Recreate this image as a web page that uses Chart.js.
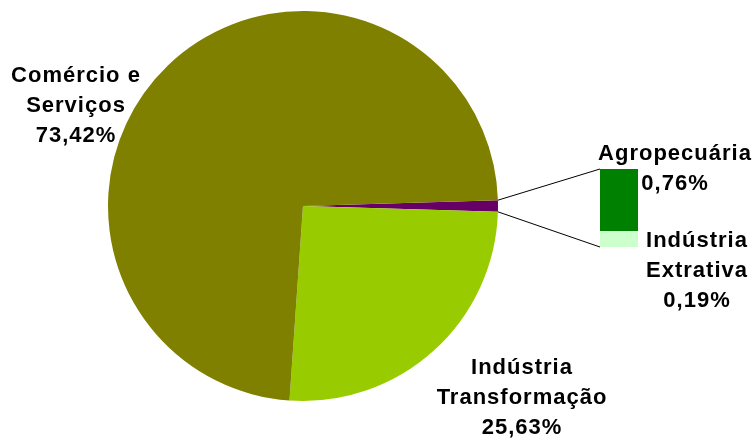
<!DOCTYPE html>
<html>
<head>
<meta charset="utf-8">
<script src="https://cdn.jsdelivr.net/npm/chart.js@4"></script>
<style>
  html, body { margin: 0; padding: 0; background: #fff; }
  #wrap { position: relative; width: 752px; height: 440px; }
  #wrap canvas { position: absolute; left: 0; top: 0; }
</style>
</head>
<body>
<div id="wrap">
  <canvas id="chartPie" width="752" height="440"></canvas>
  <canvas id="chartBar" width="752" height="440"></canvas>
</div>
<script>
// ===============================
// DADOS
// ===============================
const setores = ["Outros", "Indústria Transformação", "Comércio e Serviços"];
const setoresValores = [0.95, 25.63, 73.42];
const setoresCores = ["#660066", "#99CC00", "#808000"];

const detalhe = ["Indústria Extrativa", "Agropecuária"];
const detalheValores = [0.19, 0.76];
const detalheCores = ["#CCFFCC", "#008000"];

const rotulos = [
    { linhas: ["Comércio e", "Serviços", "73,42%"], x: 76, y: 82 },
    { linhas: ["Indústria", "Transformação", "25,63%"], x: 522, y: 374 },
    { linhas: ["Agropecuária", "0,76%"], x: 675, y: 160 },
    { linhas: ["Indústria", "Extrativa", "0,19%"], x: 697, y: 247 }
];

const fonte = "bold 22px 'Liberation Sans', Arial, sans-serif";

// ===============================
// PIZZA — Setores
// ===============================
const pie = new Chart(document.getElementById("chartPie"), {
    type: "pie",
    data: {
        labels: setores,
        datasets: [{
            data: setoresValores,
            backgroundColor: setoresCores,
            borderWidth: 0
        }]
    },
    options: {
        responsive: false,
        animation: false,
        rotation: 90 - setoresValores[0] * 3.6 / 2,
        layout: { padding: { left: 108, right: 254, top: 11, bottom: 39 } },
        plugins: { legend: { display: false }, tooltip: { enabled: false } }
    }
});

// ===============================
// BARRA — Detalhe de "Outros"
// ===============================
const ligacoes = {
    id: "ligacoes",
    afterDraw(chart) {
        const ctx = chart.ctx;
        const arco = pie.getDatasetMeta(0).data[0];
        const { x: cx, y: cy, outerRadius, startAngle, endAngle } = arco;
        const area = chart.chartArea;

        ctx.save();
        ctx.strokeStyle = "#000";
        ctx.lineWidth = 1;
        ctx.beginPath();
        ctx.moveTo(cx + outerRadius * Math.cos(startAngle), cy + outerRadius * Math.sin(startAngle));
        ctx.lineTo(area.left, area.top);
        ctx.moveTo(cx + outerRadius * Math.cos(endAngle), cy + outerRadius * Math.sin(endAngle));
        ctx.lineTo(area.left, area.bottom);
        ctx.stroke();

        ctx.fillStyle = "#000";
        ctx.font = fonte;
        ctx.letterSpacing = "1px";
        ctx.textAlign = "center";
        ctx.textBaseline = "alphabetic";
        rotulos.forEach(r => {
            r.linhas.forEach((t, i) => ctx.fillText(t, r.x, r.y + i * 30));
        });
        ctx.restore();
    }
};

new Chart(document.getElementById("chartBar"), {
    type: "bar",
    data: {
        labels: ["Outros"],
        datasets: detalhe.map((nome, i) => ({
            label: nome,
            data: [detalheValores[i]],
            backgroundColor: detalheCores[i],
            borderWidth: 0,
            barPercentage: 1,
            categoryPercentage: 1
        }))
    },
    options: {
        responsive: false,
        animation: false,
        layout: { padding: { left: 600, right: 114, top: 169, bottom: 193 } },
        scales: {
            x: { stacked: true, display: false },
            y: { stacked: true, display: false, min: 0, max: detalheValores[0] + detalheValores[1] }
        },
        plugins: { legend: { display: false }, tooltip: { enabled: false } }
    },
    plugins: [ligacoes]
});
</script>
</body>
</html>
